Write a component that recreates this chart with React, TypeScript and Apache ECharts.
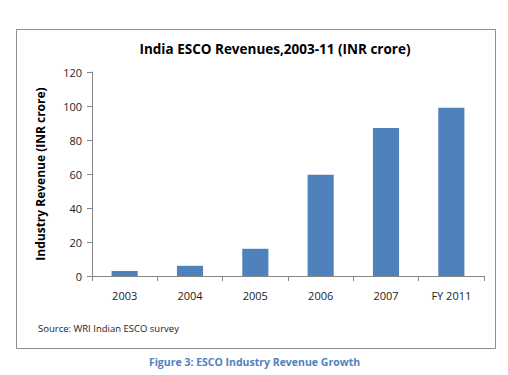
import React, { useEffect, useRef } from "react";
import * as echarts from "echarts";

const categories = ["2003", "2004", "2005", "2006", "2007", "FY 2011"];
const revenues = [3, 6, 16, 59.5, 87, 99];
const yTicks = [0, 20, 40, 60, 80, 100, 120];

const FONT = "'Open Sans', 'Noto Sans', sans-serif";

export default function App() {
  const ref = useRef<HTMLDivElement>(null);
  useEffect(() => {
    if (!ref.current) return;
    const chart = echarts.init(ref.current, undefined, { renderer: "svg" });
    chart.setOption({
      animation: false,
      backgroundColor: "#ffffff",
      grid: { left: 92, right: 24, top: 72, bottom: 99 },
      xAxis: {
        type: "category",
        data: categories,
        boundaryGap: true,
        axisLine: { lineStyle: { color: "#868686", width: 1 } },
        axisTick: { show: true, length: 5, lineStyle: { color: "#868686" } },
        axisLabel: { fontFamily: FONT, fontSize: 11, color: "#222", margin: 14 },
      },
      yAxis: {
        type: "value",
        min: yTicks[0],
        max: yTicks[yTicks.length - 1],
        interval: 20,
        name: "Industry Revenue (INR crore)",
        nameLocation: "middle",
        nameGap: 46,
        nameTextStyle: { fontFamily: FONT, fontSize: 12, fontWeight: "bold", color: "#000" },
        axisLine: { show: true, lineStyle: { color: "#868686", width: 1 } },
        axisTick: { show: true, length: 5, lineStyle: { color: "#868686" } },
        splitLine: { show: false },
        axisLabel: { fontFamily: FONT, fontSize: 11, color: "#222", margin: 10 },
      },
      series: [
        {
          type: "bar",
          data: revenues,
          barWidth: "40%",
          itemStyle: { color: "#4f81bd" },
        },
      ],
      graphic: [
        {
          type: "rect",
          shape: { x: 16.5, y: 29.5, width: 479, height: 319 },
          style: { fill: "none", stroke: "#8c8c8c", lineWidth: 1 },
          z: -1,
        },
        {
          type: "text",
          x: 275,
          y: 49,
          style: {
            text: "India ESCO Revenues,2003-11 (INR crore)",
            font: `bold 13.5px ${FONT}`,
            fill: "#000",
            align: "center",
            verticalAlign: "middle",
          },
        },
        {
          type: "text",
          x: 38,
          y: 328,
          style: {
            text: "Source: WRI Indian ESCO survey",
            font: `9.5px ${FONT}`,
            fill: "#222",
            verticalAlign: "middle",
          },
        },
        {
          type: "text",
          x: 254.5,
          y: 362,
          style: {
            text: "Figure 3: ESCO Industry Revenue Growth",
            font: `bold 10.5px ${FONT}`,
            fill: "#4f81bd",
            align: "center",
            verticalAlign: "middle",
          },
        },
      ],
    });
    return () => chart.dispose();
  }, []);
  return (
    <div
      ref={ref}
      style={{ position: "absolute", left: 0, top: 0, width: 508, height: 375 }}
    />
  );
}
